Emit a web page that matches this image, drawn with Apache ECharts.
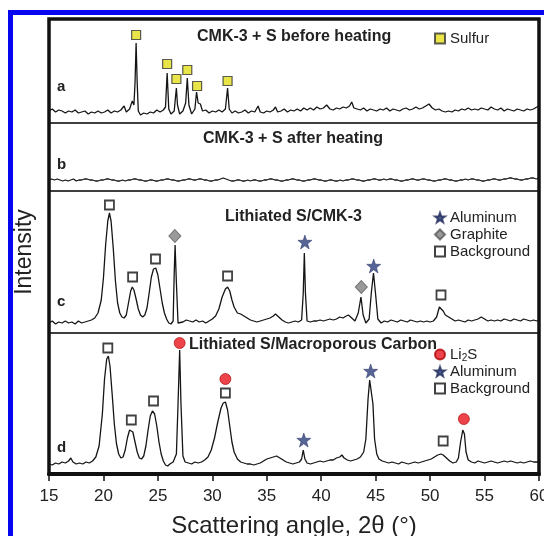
<!DOCTYPE html>
<html><head><meta charset="utf-8">
<script src="https://cdn.jsdelivr.net/npm/echarts@6/dist/echarts.min.js"></script>
<style>html,body{margin:0;padding:0;background:#fff}#c{width:544px;height:536px}</style>
</head><body><div id="c"></div>
<script>
// ---- data (2θ in degrees, intensity in arbitrary units) ----
const patternA = [[15.0,12],[15.3,14],[15.6,11],[15.9,13],[16.2,12],[16.5,10],[16.8,12],[17.1,11],[17.4,13],[17.7,10],[18.0,11],[18.3,12],[18.6,9],[18.9,11],[19.2,10],[19.5,12],[19.8,10],[20.1,11],[20.4,13],[20.7,10],[21.0,12],[21.3,11],[21.6,13],[21.9,17],[22.1,11],[22.4,14],[22.65,22],[22.8,18],[22.9,40],[23.0,80],[23.1,40],[23.2,12],[23.4,8],[23.7,10],[24.0,9],[24.3,11],[24.6,10],[24.9,13],[25.2,11],[25.5,13],[25.7,16],[25.85,50],[26.0,14],[26.2,9],[26.5,12],[26.6,24],[26.7,35],[26.8,18],[27.0,9],[27.3,12],[27.55,20],[27.7,45],[27.85,18],[28.1,9],[28.4,14],[28.55,31],[28.7,20],[28.9,19],[29.1,12],[29.4,13],[29.7,10],[30.0,12],[30.3,11],[30.6,13],[30.9,11],[31.2,14],[31.4,35],[31.55,14],[31.8,10],[32.1,12],[32.4,10],[32.7,11],[33.0,13],[33.3,10],[33.6,12],[33.9,11],[34.2,17],[34.4,11],[34.7,10],[35.0,12],[35.3,11],[35.6,13],[35.8,16],[36.0,11],[36.3,12],[36.6,14],[36.9,11],[37.2,13],[37.5,12],[37.8,14],[38.1,12],[38.4,15],[38.7,13],[39.0,15],[39.3,13],[39.6,16],[39.9,14],[40.2,15],[40.5,18],[40.8,14],[41.1,13],[41.4,15],[41.7,14],[42.0,16],[42.3,15],[42.6,17],[42.8,21],[43.0,15],[43.3,14],[43.6,13],[43.9,15],[44.2,12],[44.5,14],[44.8,13],[45.1,12],[45.4,14],[45.7,13],[46.0,15],[46.3,12],[46.6,14],[46.9,13],[47.2,12],[47.5,14],[47.8,15],[48.1,13],[48.4,14],[48.7,16],[49.0,14],[49.3,15],[49.6,17],[49.9,19],[50.2,15],[50.5,13],[50.8,14],[51.1,12],[51.4,11],[51.7,12],[52.0,11],[52.3,13],[52.6,12],[52.9,14],[53.2,13],[53.5,15],[53.8,13],[54.1,14],[54.4,13],[54.7,15],[55.0,14],[55.3,13],[55.6,16],[55.9,14],[56.2,13],[56.5,15],[56.8,12],[57.1,14],[57.4,13],[57.7,12],[58.0,14],[58.3,13],[58.6,12],[58.9,14],[59.2,13],[59.5,14],[59.8,16],[60.0,17]];

const patternB = [[15,11],[15.25,12],[15.5,11],[15.75,12],[16,11],[16.25,10],[16.5,11],[16.75,10],[17,11],[17.25,12],[17.5,10],[17.75,11],[18,11],[18.25,12],[18.5,12],[18.75,11],[19,11],[19.25,10],[19.5,10],[19.75,11],[20,11],[20.25,12],[20.5,12],[20.75,11],[21,11],[21.25,10],[21.5,10],[21.75,11],[22,10],[22.25,11],[22.5,11],[22.75,12],[23,12],[23.25,11],[23.5,11],[23.75,10],[24,10],[24.25,11],[24.5,11],[24.75,10],[25,10],[25.25,11],[25.5,11],[25.75,12],[26,12],[26.25,11],[26.5,11],[26.75,10],[27,10],[27.25,11],[27.5,11],[27.75,12],[28,12],[28.25,11],[28.5,11],[28.75,12],[29,12],[29.25,11],[29.5,11],[29.75,10],[30,10],[30.25,11],[30.5,11],[30.75,12],[31,13],[31.25,12],[31.5,11],[31.75,10],[32,10],[32.25,11],[32.5,11],[32.75,10],[33,10],[33.25,11],[33.5,10],[33.75,11],[34,11],[34.25,10],[34.5,10],[34.75,11],[35,11],[35.25,12],[35.5,12],[35.75,11],[36,11],[36.25,10],[36.5,10],[36.75,11],[37,11],[37.25,12],[37.5,12],[37.75,11],[38,11],[38.25,10],[38.5,10],[38.75,11],[39,11],[39.25,12],[39.5,12],[39.75,11],[40,11],[40.25,10],[40.5,10],[40.75,11],[41,11],[41.25,10],[41.5,10],[41.75,11],[42,10],[42.25,11],[42.5,11],[42.75,12],[43,12],[43.25,11],[43.5,11],[43.75,10],[44,10],[44.25,11],[44.5,11],[44.75,12],[45,12],[45.25,11],[45.5,11],[45.75,12],[46,11],[46.25,12],[46.5,12],[46.75,11],[47,11],[47.25,10],[47.5,10],[47.75,11],[48,11],[48.25,12],[48.5,12],[48.75,11],[49,11],[49.25,12],[49.5,12],[49.75,11],[50,11],[50.25,10],[50.5,10],[50.75,11],[51,11],[51.25,12],[51.5,12],[51.75,11],[52,11],[52.25,10],[52.5,10],[52.75,11],[53,11],[53.25,12],[53.5,11],[53.75,12],[54,12],[54.25,11],[54.5,11],[54.75,10],[55,10],[55.25,11],[55.5,11],[55.75,12],[56,12],[56.25,11],[56.5,11],[56.75,12],[57,12],[57.25,13],[57.5,13],[57.75,12],[58,12],[58.25,11],[58.5,11],[58.75,12],[59,12],[59.25,13],[59.5,13],[59.75,12],[60,13]];

const patternC = [[15,10],[15.3,12],[15.6,9],[15.9,11],[16.2,10],[16.5,12],[16.8,10],[17.1,11],[17.4,9],[17.7,12],[18.0,10],[18.3,11],[18.6,12],[18.9,13],[19.2,15],[19.5,20],[19.8,33],[20.0,55],[20.2,88],[20.4,112],[20.55,120],[20.7,112],[20.9,85],[21.1,52],[21.3,30],[21.5,20],[21.7,16],[21.9,15],[22.1,18],[22.3,30],[22.5,42],[22.65,46],[22.8,43],[23.0,34],[23.2,24],[23.4,18],[23.6,16],[23.8,18],[24.0,25],[24.2,40],[24.4,56],[24.6,64],[24.8,65],[25.0,58],[25.2,44],[25.4,30],[25.6,20],[25.8,14],[26.0,10],[26.2,9],[26.4,12],[26.5,60],[26.58,88],[26.7,50],[26.85,10],[27.0,12],[27.3,11],[27.6,13],[27.9,12],[28.2,11],[28.5,13],[28.8,11],[29.1,12],[29.4,10],[29.7,12],[30.0,14],[30.3,17],[30.6,24],[30.9,36],[31.2,44],[31.4,46],[31.6,42],[31.8,33],[32.0,26],[32.3,20],[32.6,19],[32.9,17],[33.2,15],[33.5,13],[33.8,12],[34.1,11],[34.4,12],[34.7,13],[35.0,14],[35.3,15],[35.6,17],[35.8,19],[36.1,16],[36.4,13],[36.7,11],[37.0,10],[37.3,11],[37.6,12],[37.9,11],[38.2,13],[38.35,40],[38.45,80],[38.55,40],[38.7,12],[39.0,11],[39.3,12],[39.6,12],[39.9,13],[40.2,12],[40.5,13],[40.8,14],[41.1,13],[41.4,14],[41.7,16],[42.0,15],[42.3,17],[42.5,18],[42.8,15],[43.1,12],[43.4,20],[43.65,36],[43.85,18],[44.1,10],[44.4,14],[44.6,40],[44.8,60],[45.0,38],[45.2,14],[45.5,10],[45.8,12],[46.1,11],[46.4,13],[46.7,12],[47.0,11],[47.3,13],[47.6,12],[47.9,11],[48.2,13],[48.5,12],[48.8,11],[49.1,12],[49.4,11],[49.7,12],[50.0,11],[50.3,12],[50.6,16],[50.85,26],[51.0,28],[51.2,22],[51.4,18],[51.7,16],[52.0,14],[52.3,12],[52.6,13],[52.9,12],[53.2,11],[53.5,13],[53.8,12],[54.1,13],[54.4,14],[54.7,16],[55.0,14],[55.3,12],[55.6,13],[55.9,12],[56.2,13],[56.5,12],[56.8,14],[57.1,13],[57.4,12],[57.7,14],[58.0,13],[58.3,12],[58.6,14],[58.9,13],[59.2,12],[59.5,13],[59.8,12],[60.0,13]];

const patternD = [[15,10],[15.3,9],[15.6,11],[15.9,10],[16.2,12],[16.5,11],[16.8,13],[17.0,16],[17.2,12],[17.5,10],[17.8,11],[18.1,10],[18.4,12],[18.7,11],[19.0,13],[19.3,17],[19.6,28],[19.9,60],[20.1,95],[20.3,115],[20.45,118],[20.6,108],[20.8,80],[21.0,50],[21.2,30],[21.4,20],[21.6,16],[21.8,17],[22.0,24],[22.2,36],[22.4,44],[22.55,45],[22.7,42],[22.9,32],[23.1,22],[23.3,16],[23.5,15],[23.7,18],[23.9,28],[24.1,44],[24.3,58],[24.5,63],[24.7,60],[24.9,48],[25.1,32],[25.3,20],[25.5,13],[25.7,9],[25.9,8],[26.1,10],[26.4,12],[26.7,20],[26.85,70],[27.0,124],[27.12,70],[27.3,18],[27.5,12],[27.8,11],[28.1,10],[28.4,12],[28.7,11],[29.0,12],[29.3,14],[29.6,17],[29.9,24],[30.2,36],[30.5,52],[30.8,66],[31.0,71],[31.2,72],[31.4,64],[31.6,48],[31.8,32],[32.0,22],[32.3,15],[32.6,12],[32.9,11],[33.2,10],[33.5,10],[33.8,9],[34.1,10],[34.4,11],[34.7,13],[35.0,15],[35.3,16],[35.6,17],[35.9,18],[36.2,16],[36.5,14],[36.8,12],[37.1,11],[37.4,10],[37.7,11],[38.0,12],[38.2,15],[38.35,24],[38.5,15],[38.7,11],[39.0,10],[39.3,11],[39.6,12],[39.9,13],[40.2,12],[40.5,13],[40.8,14],[41.1,14],[41.4,16],[41.7,17],[41.9,19],[42.1,16],[42.4,14],[42.7,13],[43.0,14],[43.3,15],[43.6,17],[43.9,22],[44.1,35],[44.3,75],[44.45,94],[44.6,94],[44.75,70],[44.9,35],[45.1,20],[45.3,15],[45.6,13],[45.9,12],[46.2,11],[46.5,12],[46.8,11],[47.1,10],[47.4,12],[47.7,11],[48.0,10],[48.3,11],[48.6,12],[48.9,11],[49.2,12],[49.5,13],[49.8,14],[50.1,15],[50.4,17],[50.7,19],[51.0,20],[51.2,19],[51.5,16],[51.8,13],[52.1,11],[52.4,12],[52.6,16],[52.8,32],[53.0,44],[53.15,40],[53.3,22],[53.5,14],[53.8,12],[54.1,11],[54.4,13],[54.7,12],[55.0,11],[55.3,12],[55.6,13],[55.9,12],[56.2,11],[56.5,12],[56.8,13],[57.1,12],[57.4,13],[57.7,12],[58.0,11],[58.3,12],[58.6,11],[58.9,12],[59.2,13],[59.5,12],[59.8,12],[60.0,12]];

// peak markers [2θ, marker height]
const sulfurMarksA = [[23.0,88],[25.85,59],[26.7,44],[27.7,53],[28.6,37],[31.4,42]];
const backgroundMarksC = [[20.55,128],[22.68,56],[24.78,74],[31.4,57],[51.0,38]];
const graphiteMarksC = [[26.56,97],[43.68,46]];
const aluminumMarksC = [[38.5,91],[44.82,67]];
const backgroundMarksD = [[20.4,126],[22.56,54],[24.6,73],[31.2,81],[51.2,33]];
const li2sMarksD = [[27.0,131],[31.2,95],[53.1,55]];
const aluminumMarksD = [[38.4,34],[44.54,103]];

const panelLetters = ['a','b','c','d'];
const panelTitles = ['CMK-3 + S before heating','CMK-3 + S after heating','Lithiated S/CMK-3','Lithiated S/Macroporous Carbon'];
const xRange = [15, 60], xStep = 5;

// ---- layout ----
const FONT = 'Liberation Sans, Arial, sans-serif';
const L = 49, R = 539;
const panels = [{top:19,h:104},{top:123,h:68},{top:191,h:142},{top:333,h:141}];
const STAR = 'path://M0,-10 L2.35,-3.24 L9.51,-3.09 L3.8,1.24 L5.88,8.09 L0,4 L-5.88,8.09 L-3.8,1.24 L-9.51,-3.09 L-2.35,-3.24 Z';

const sty = {
  sulfur: {symbol:'rect', symbolSize:9, itemStyle:{color:'#e4df1c', borderColor:'#333', borderWidth:1.2}},
  bg: {symbol:'rect', symbolSize:9, itemStyle:{color:'#fff', borderColor:'#111', borderWidth:1.8}},
  graphite: {symbol:'diamond', symbolSize:[12,13], itemStyle:{color:'#808080', borderColor:'#5a5a5a', borderWidth:1}},
  al: {symbol:STAR, symbolSize:14, itemStyle:{color:'#2c3e7c', borderColor:'#1e2a5a', borderWidth:0.6}},
  li2s: {symbol:'circle', symbolSize:11, itemStyle:{color:'#e8141e', borderColor:'#a00', borderWidth:0.8}}
};

const grids = panels.map(p => ({left:L, width:R-L, top:p.top, height:p.h, show:true, borderColor:'#333', borderWidth:1.5,
  containLabel:false, outerBoundsMode:'none'}));
const xAxes = panels.map((p,i) => ({
  gridIndex:i, type:'value', min:xRange[0], max:xRange[1], interval:xStep,
  show: i===3, splitLine:{show:false},
  axisLine:{show:true, lineStyle:{color:'#111', width:4}},
  axisTick:{show:true, length:7, lineStyle:{color:'#111', width:1.5}},
  axisLabel:{show:true, fontSize:17, color:'#222', fontFamily:FONT, margin:14},
  name: i===3 ? 'Scattering angle, 2θ (°)' : '', nameLocation:'middle', nameGap:40,
  nameTextStyle:{fontSize:24, color:'#222', fontFamily:FONT}
}));
const yAxes = panels.map((p,i) => ({gridIndex:i, type:'value', min:0, max:p.h, show:false}));

const lineS = (data, i) => ({type:'line', xAxisIndex:i, yAxisIndex:i, data, showSymbol:false, symbol:'none',
  lineStyle:{color:'#151515', width:1.3}, z:2, silent:true});
const markS = (name, data, i, st) => Object.assign({type:'scatter', name, xAxisIndex:i, yAxisIndex:i, data, z:5, silent:true}, st);

const series = [
  lineS(patternA,0), lineS(patternB,1), lineS(patternC,2), lineS(patternD,3),
  markS('Sulfur', sulfurMarksA, 0, sty.sulfur),
  markS('Background', backgroundMarksC, 2, sty.bg),
  markS('Graphite', graphiteMarksC, 2, sty.graphite),
  markS('Aluminum', aluminumMarksC, 2, sty.al),
  markS('Background', backgroundMarksD, 3, sty.bg),
  markS('Li2S', li2sMarksD, 3, sty.li2s),
  markS('Aluminum', aluminumMarksD, 3, sty.al)
];

const legTxt = {fontSize:15, color:'#222', fontFamily:FONT, lineHeight:17,
  rich:{n:{fontSize:15, color:'#222', fontFamily:FONT}, s:{fontSize:10, color:'#222', fontFamily:FONT, verticalAlign:'bottom', padding:[6,0,0,0]}}};
const legFmt = n => n === 'Li2S' ? '{n|Li}{s|2}{n|S}' : n;
const mkLegend = (data, top) => ({data, left:434, top, orient:'vertical', padding:0, itemGap:0, itemWidth:10, itemHeight:10,
  textStyle:legTxt, formatter:legFmt, selectedMode:false});

const texts = [];
const titleY = [38, 140, 218, 346], titleX = [197, 203, 225, 189];
const letterY = [88, 166, 303, 449];
panels.forEach((p,i) => {
  texts.push({type:'text', left:titleX[i], top:titleY[i]-9, style:{text:panelTitles[i], font:'bold 16px '+FONT, fill:'#222'}});
  texts.push({type:'text', left:57, top:letterY[i]-9, style:{text:panelLetters[i], font:'bold 15px '+FONT, fill:'#222'}});
});
texts.push({type:'text', x:25, y:252, rotation:Math.PI/2, style:{text:'Intensity', font:'23px '+FONT, fill:'#222', textAlign:'center', textVerticalAlign:'middle'}});
// outer thick frame
texts.push({type:'rect', shape:{x:L, y:panels[0].top, width:R-L, height:panels[3].top+panels[3].h-panels[0].top}, style:{fill:'none', stroke:'#111', lineWidth:3.5}, z:10});
// blue outer border
texts.push({type:'rect', shape:{x:8, y:10, width:536, height:5}, style:{fill:'#0505f0'}});
texts.push({type:'rect', shape:{x:8, y:10, width:5, height:526}, style:{fill:'#0505f0'}});

const chart = echarts.init(document.getElementById('c'), null, {renderer:'canvas'});
chart.setOption({
  animation:false, backgroundColor:'#fff',
  grid:grids, xAxis:xAxes, yAxis:yAxes, series,
  legend:[mkLegend(['Sulfur'], 30), mkLegend(['Aluminum','Graphite','Background'], 209), mkLegend(['Li2S','Aluminum','Background'], 346)],
  graphic:texts
});
</script></body></html>
